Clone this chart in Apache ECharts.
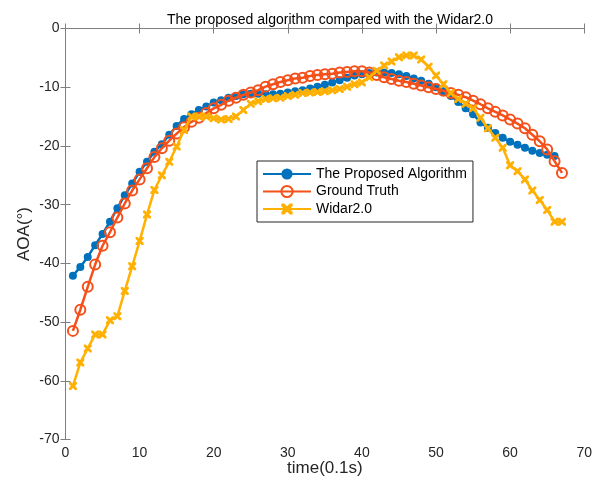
<!DOCTYPE html>
<html><head><meta charset="utf-8">
<script src="https://cdn.jsdelivr.net/npm/echarts@6/dist/echarts.min.js"></script>
<style>html,body{margin:0;padding:0;background:#fff}#c{width:595px;height:488px}</style>
</head><body><div id="c"></div>
<script>
const titleText = 'The proposed algorithm compared with the Widar2.0';
const xName = 'time(0.1s)';
const yName = 'AOA(°)';
const seriesNames = ['The Proposed Algorithm', 'Ground Truth', 'Widar2.0'];
const proposed = [-42.1,-40.6,-38.9,-36.9,-35.0,-32.9,-30.6,-28.4,-26.4,-24.4,-22.7,-21.0,-19.7,-18.1,-16.6,-15.4,-14.6,-13.9,-13.3,-12.6,-12.2,-11.8,-11.5,-11.2,-11.1,-11.1,-11.2,-11.2,-11.1,-10.9,-10.7,-10.5,-10.2,-9.9,-9.6,-9.2,-8.8,-8.4,-8.0,-7.8,-7.6,-7.5,-7.5,-7.6,-7.8,-8.1,-8.5,-8.9,-9.4,-10.0,-10.7,-11.5,-12.5,-13.6,-14.6,-16.0,-16.9,-17.8,-18.6,-19.3,-19.8,-20.3,-20.8,-21.2,-21.5,-21.7];
const groundTruth = [-51.5,-47.9,-44.0,-40.2,-37.0,-34.7,-32.2,-29.8,-27.6,-25.7,-23.8,-21.9,-20.4,-19.1,-17.9,-16.8,-15.9,-15.2,-14.4,-13.6,-13.0,-12.3,-11.8,-11.3,-10.9,-10.5,-9.9,-9.5,-9.1,-8.8,-8.5,-8.4,-8.1,-7.9,-7.8,-7.7,-7.5,-7.4,-7.3,-7.3,-7.5,-7.9,-8.3,-8.6,-8.9,-9.1,-9.4,-9.7,-10.0,-10.3,-10.6,-11.0,-11.3,-11.7,-12.3,-12.9,-13.6,-14.2,-14.8,-15.5,-16.2,-17.0,-18.1,-19.2,-20.6,-22.6,-24.6];
const widar = [-60.9,-56.9,-54.5,-52.1,-52.1,-49.7,-49.0,-44.7,-40.5,-36.2,-31.7,-27.5,-25.0,-22.7,-20.1,-17.3,-15.0,-15.0,-15.0,-15.3,-15.5,-15.4,-15.0,-13.9,-12.8,-12.4,-12.0,-11.9,-11.8,-11.5,-11.3,-11.0,-10.9,-10.8,-10.7,-10.5,-10.3,-9.9,-9.5,-9.2,-8.3,-7.2,-6.3,-5.6,-4.9,-4.6,-4.6,-5.3,-6.5,-8.0,-9.5,-11.0,-12.0,-12.8,-13.6,-15.2,-17.0,-18.6,-20.3,-23.3,-24.3,-25.7,-27.6,-29.2,-30.9,-32.9,-32.9];
const xTicks = {min: 0, max: 70, interval: 10};
const yTicks = {min: -70, max: 0, interval: 10};

const toPairs = arr => arr.map((v, i) => [i + 1, v]);
const FONT = 'Liberation Sans, Arial, sans-serif';
const AX = '#7f7f7f';
const TXT = '#262626';
const blue = '#0072BD', red = '#F5501A', yellow = '#FFB000';
const xPath = 'path://M0,0 L2.5,0 L5,2.5 L7.5,0 L10,0 L10,2.5 L7.5,5 L10,7.5 L10,10 L7.5,10 L5,7.5 L2.5,10 L0,10 L0,7.5 L2.5,5 L0,2.5 Z';

const axisCommon = {
  axisLine: {show: true, lineStyle: {color: AX, width: 1}},
  axisTick: {show: true, inside: true, length: 5, lineStyle: {color: AX}},
  splitLine: {show: false}
};

const chart = echarts.init(document.getElementById('c'), null, {renderer: 'canvas'});
chart.setOption({
  animation: false,
  backgroundColor: '#fff',
  title: {
    text: titleText, left: 325, top: 8, textAlign: 'center',
    textStyle: {fontFamily: FONT, fontSize: 14, fontWeight: 'normal', color: '#000'}
  },
  grid: {left: 65.5, right: 9.5, top: 28.5, bottom: 48.5, containLabel: false},
  legend: {
    data: seriesNames, orient: 'vertical', left: 257, top: 161,
    backgroundColor: '#fff', borderColor: TXT, borderWidth: 1,
    padding: [6, 6, 6, 5], itemWidth: 48, itemHeight: 14, itemGap: 3.5,
    textStyle: {fontFamily: FONT, fontSize: 14, color: '#000', lineHeight: 14}
  },
  xAxis: [
    Object.assign({type: 'value', position: 'bottom', min: xTicks.min, max: xTicks.max, interval: xTicks.interval,
      name: xName, nameLocation: 'middle', nameGap: 20, nameMoveOverlap: false,
      nameTextStyle: {fontFamily: FONT, fontSize: 17, color: TXT},
      axisLabel: {fontFamily: FONT, fontSize: 14, color: TXT, margin: 7}}, axisCommon),
    Object.assign({type: 'value', position: 'top', min: xTicks.min, max: xTicks.max, interval: xTicks.interval,
      axisLabel: {show: false}}, axisCommon)
  ],
  yAxis: [
    Object.assign({type: 'value', position: 'left', min: yTicks.min, max: yTicks.max, interval: yTicks.interval,
      name: yName, nameLocation: 'middle', nameGap: 33, nameMoveOverlap: false,
      nameTextStyle: {fontFamily: FONT, fontSize: 17, color: TXT},
      axisLabel: {fontFamily: FONT, fontSize: 14, color: TXT, margin: 6}}, axisCommon),
    Object.assign({type: 'value', position: 'right', min: yTicks.min, max: yTicks.max, interval: yTicks.interval,
      axisLabel: {show: false}}, axisCommon)
  ],
  series: [
    {name: seriesNames[0], type: 'line', data: toPairs(proposed), symbol: 'circle', symbolSize: 8,
      lineStyle: {color: blue, width: 2.5}, itemStyle: {color: blue, borderWidth: 0}, z: 2},
    {name: seriesNames[1], type: 'line', data: toPairs(groundTruth), symbol: 'circle', symbolSize: 10,
      lineStyle: {color: red, width: 2.5}, itemStyle: {color: 'rgba(255,255,255,0)', borderColor: red, borderWidth: 2}, z: 3},
    {name: seriesNames[2], type: 'line', data: toPairs(widar), symbol: xPath, symbolSize: 8,
      lineStyle: {color: yellow, width: 2.5}, itemStyle: {color: yellow, borderWidth: 0}, z: 4}
  ]
});
</script></body></html>
